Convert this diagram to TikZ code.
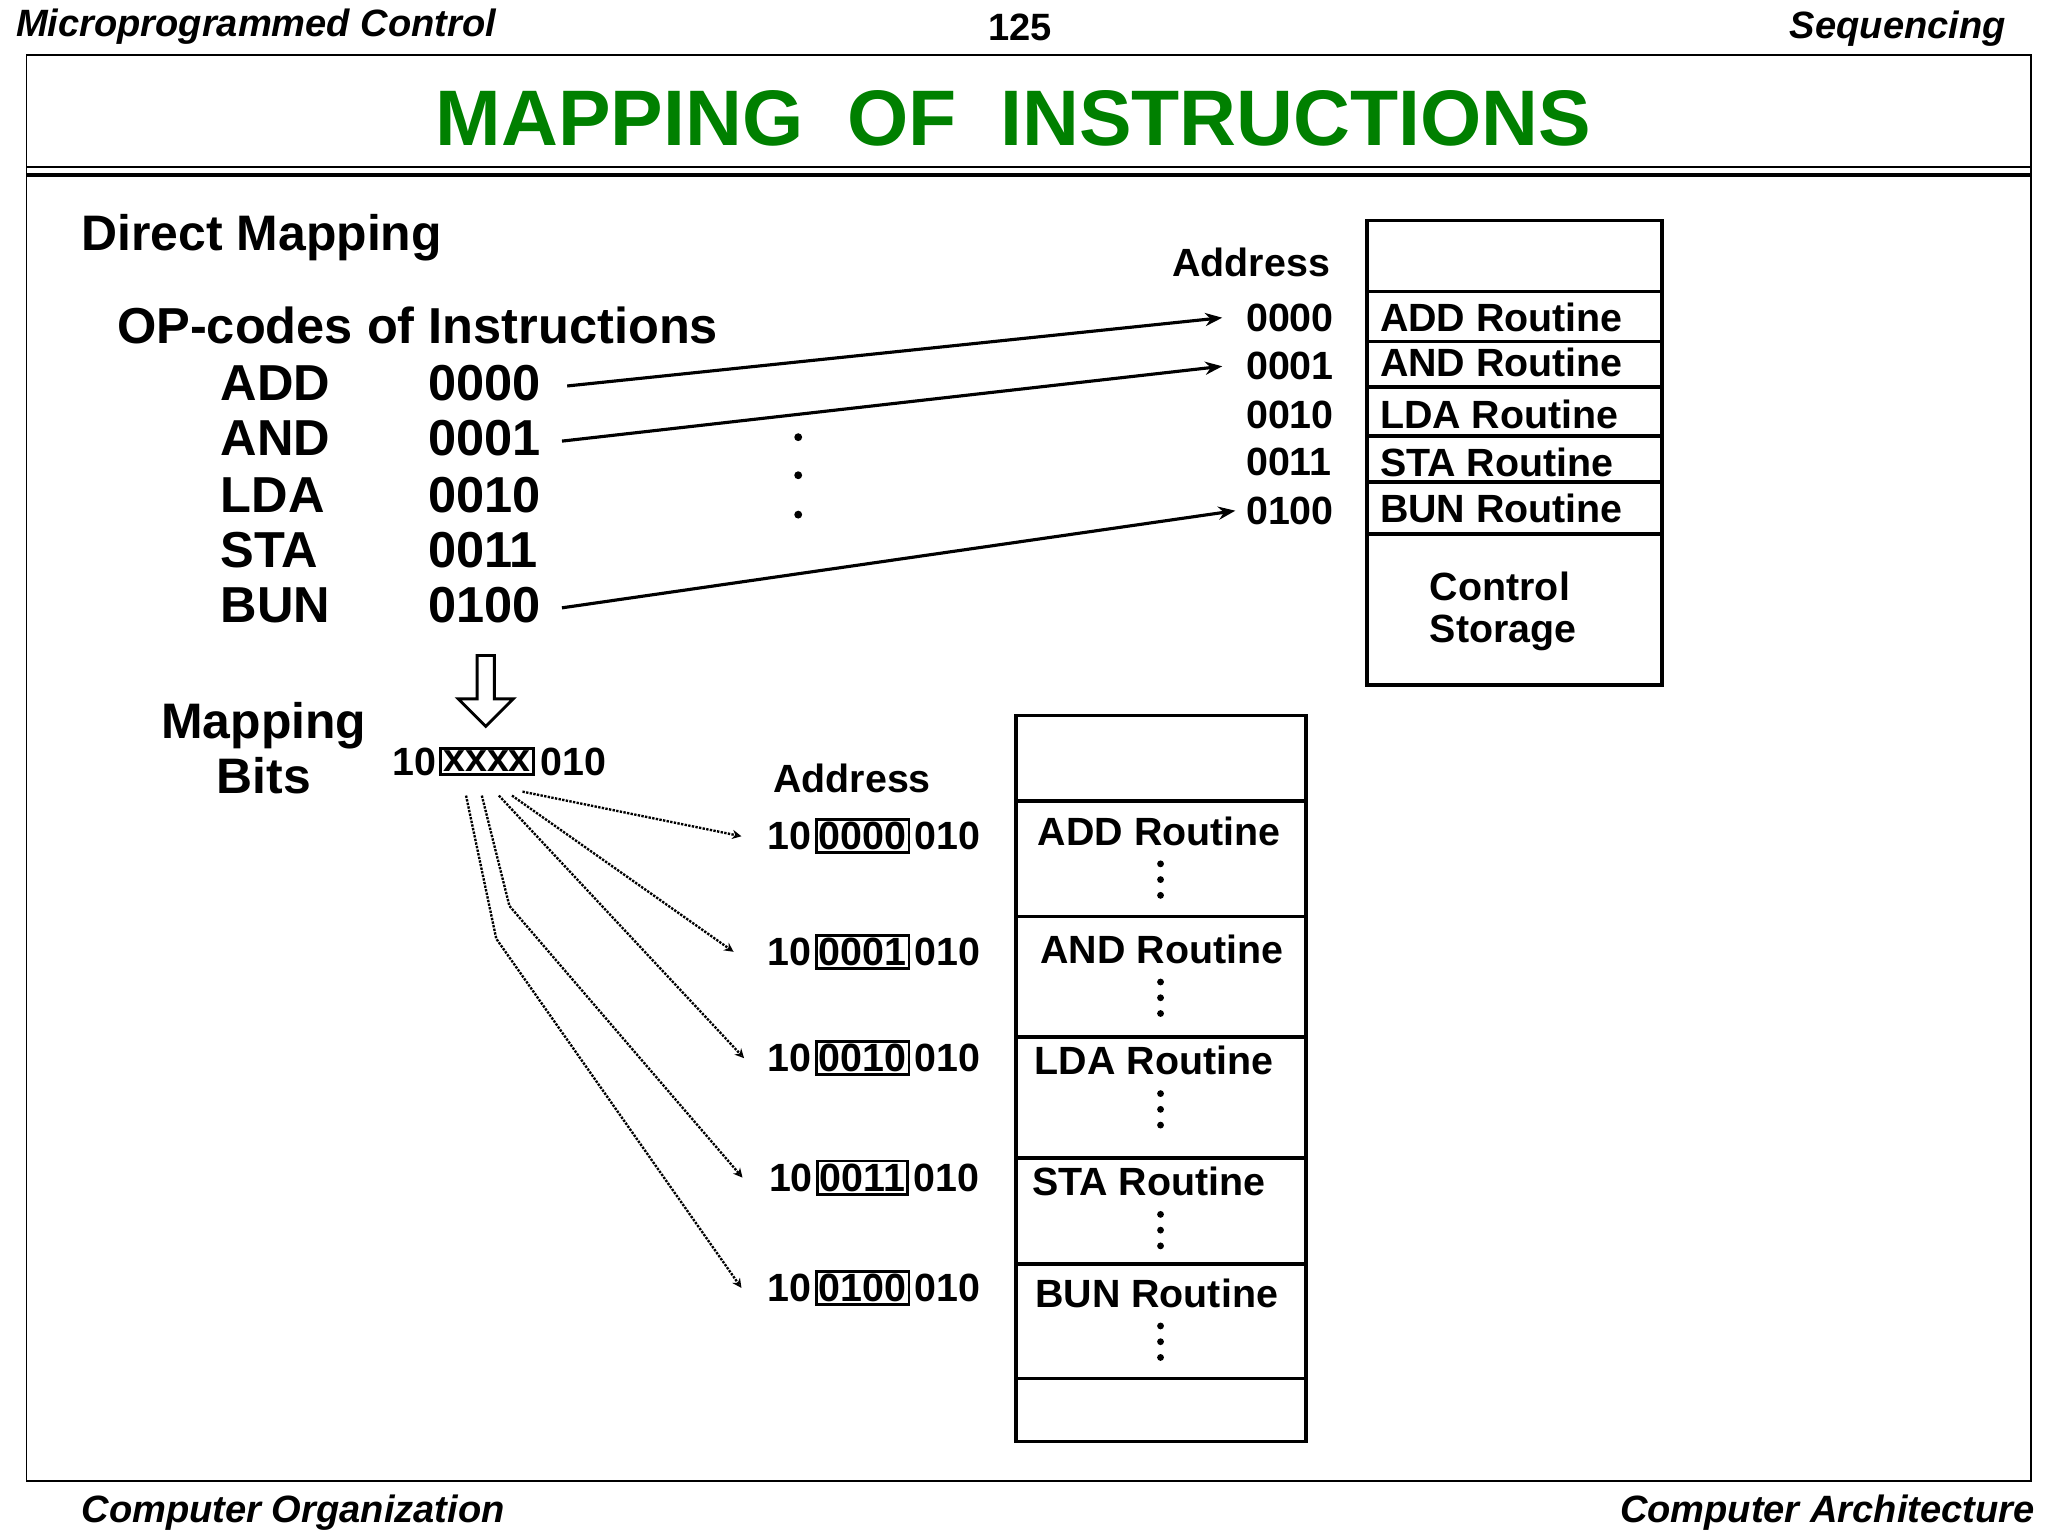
\documentclass[tikz,border=0pt]{standalone}
\usepackage{fontspec}
\setmainfont{Liberation Sans}
\usetikzlibrary{arrows.meta,shapes.arrows}
\definecolor{ttl}{RGB}{0,128,0}
\newcommand{\fs}[1]{\fontsize{#1}{#1}\selectfont\bfseries}
\begin{document}
\begin{tikzpicture}[x=1pt,y=-1pt,
  hdr/.style={font=\fs{29}\itshape,inner sep=0},
  big/.style={font=\fs{38.5},inner sep=0},
  med/.style={font=\fs{38},inner sep=0},
  sm/.style={font=\fs{30},inner sep=0},
  arr/.style={line width=2.4pt,-{Stealth[length=13pt,width=10pt]}},
  darr/.style={densely dotted,line width=1.8pt,-{Stealth[length=7pt,width=7pt,open]}},
  box/.style={draw,line width=2.8pt}]
\useasboundingbox (0,0) rectangle (1560,1170);
\fill[white] (0,0) rectangle (1560,1170);
\node[hdr,anchor=west] (h1) at (12,20) {Microprogrammed Control};
\node[hdr,font=\fs{29}] (h2) at (777,21) {125};
\node[hdr,anchor=east] (h3) at (1528,22) {Sequencing};
\node[hdr,anchor=west] (f1) at (62,1152) {Computer Organization};
\node[hdr,anchor=east] (f2) at (1550,1152) {Computer Architecture};
\draw[line width=1pt] (20,42) rectangle (1547,1128);
\draw[line width=1.5pt] (20,127) -- (1547,127);
\draw[line width=3pt] (20,133) -- (1547,133);
\node[inner sep=0,text=ttl,font=\fs{60}] (title) at (772,90) {MAPPING\ \ OF\ \ INSTRUCTIONS};
\node[med,anchor=west] (dm) at (62,181) {Direct Mapping};
\node[big,anchor=west] (op) at (89,248) {OP-codes of Instructions};
\foreach \n/\c/\y/\k in {ADD/0000/292/a,AND/0001/334/b,LDA/0010/377/c,STA/0011/419/d,BUN/0100/461/e}{
  \node[big,anchor=west] (n\k) at (168,\y) {\n};
  \node[big,anchor=west] (c\k) at (326,\y) {\c};}
\foreach \y in {333,362,392} \fill (608,\y) circle (3pt);
% upper store
\node[sm] (adr1) at (953,200) {Address};
\foreach \a/\y/\k in {0000/242/a,0001/279/b,0010/316/c,0011/352/d,0100/389/e}
  \node[sm,anchor=west] (u\k) at (949,\y) {\a};
\draw[box] (1041,168) rectangle (1266,522);
\foreach \y in {222,260,295,332,367,407} \draw[line width=2.8pt] (1041,\y) -- (1266,\y);
\foreach \r/\y in {ADD/242,AND/276,LDA/316,STA/352,BUN/387}
  \node[sm,anchor=west] at (1051,\y) {\r\ Routine};
\node[sm,align=left,anchor=west] (cs) at (1089,466) {Control\\[2pt]Storage};
\draw[arr] ([xshift=20pt,yshift=-2pt]ca.east) -- ([xshift=-18pt]ua.west);
\draw[arr] ([xshift=16pt,yshift=-2pt]cb.east) -- ([xshift=-18pt]ub.west);
\draw[arr] ([xshift=16pt,yshift=-2pt]ce.east) -- ([xshift=-8pt]ue.west);
% hollow arrow
\node[draw,line width=2.2pt,single arrow,shape border rotate=270,minimum height=54pt,minimum width=42pt,single arrow head extend=9pt,inner sep=3pt] (ha) at (370,523) {};
\node[med,align=center] (mb) at (201,570) {Mapping\\[4pt]Bits};
\node[sm,draw,line width=2.2pt,inner sep=2pt] (xb) at (371,580) {xxxx};
\node[sm,anchor=east] (x1) at ([xshift=-2pt]xb.west) {10};
\node[sm,anchor=west] (x2) at ([xshift=4pt]xb.east) {010};
\node[sm] (adr2) at (649,593) {Address};
\foreach \b/\y/\k in {0000/637/a,0001/725/b,0010/806/c,0011/897/d,0100/981/e}{
  \node[sm,draw,line width=2.2pt,inner sep=2pt] (m\k) at (657,\y) {\b};
  \node[sm,anchor=east] (l\k) at ([xshift=-2pt]m\k.west) {10};
  \node[sm,anchor=west] (r\k) at ([xshift=3pt]m\k.east) {010};}
\draw[box] (774,545) rectangle (995,1098);
\foreach \y in {610,698,790,882,963,1050} \draw[line width=2.8pt] (774,\y) -- (995,\y);
\foreach \r/\y/\x in {ADD/633/883,AND/723/885,LDA/808/879,STA/900/875,BUN/985/881}{
  \node[sm] at (\x,\y) {\r\ Routine};
  \foreach \d in {25,37,49} \fill (884,\y+\d) circle (2.6pt);}
\coordinate (sa) at (398,603); \coordinate (sb) at (390,606);
\coordinate (sc) at (380,606); \coordinate (sd) at (367,606); \coordinate (se) at (355,606);
\draw[darr] (sa) -- ([xshift=-20pt]la.west);
\draw[darr] (sb) -- ([xshift=-26pt]lb.west);
\draw[darr] (sc) -- ([xshift=-18pt]lc.west);
\draw[darr] (sd) -- (388,690) -- ([xshift=-20pt]ld.west);
\draw[darr] (se) -- (378,715) -- ([xshift=-20pt]le.west);
\end{tikzpicture}
\end{document}
